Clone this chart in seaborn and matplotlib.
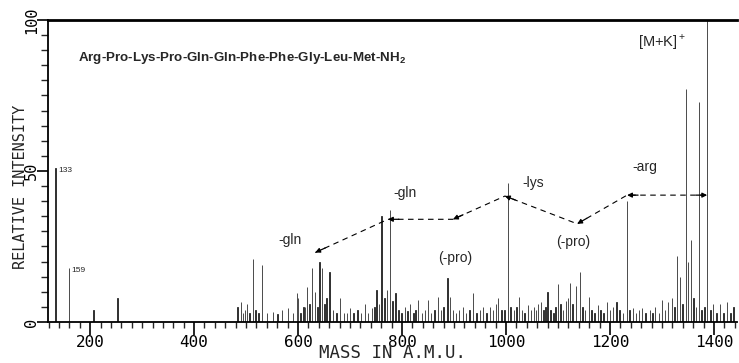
import matplotlib
matplotlib.use("Agg")
import matplotlib.pyplot as plt
from matplotlib.ticker import MultipleLocator, FixedLocator
import pandas as pd
import seaborn as sns

# Peak list of the spectrum (m/z, relative intensity %)
mass = [133, 159, 206, 253,
        483, 490, 494, 498, 502, 507, 513, 518, 524, 531, 540, 552, 560, 569, 581, 590,
        598, 600, 605, 610, 613, 617, 622, 627, 633, 637, 641, 646, 651, 655, 660, 667,
        674, 681, 688, 694, 700, 707, 714, 721, 729, 735, 742, 747, 751, 756, 761, 766,
        771, 777, 782, 787, 793, 799, 806, 811, 815, 822, 826, 831, 838, 844, 850, 856,
        862, 869, 875, 880, 887, 892, 898, 904, 910, 917, 923, 930, 937, 943, 950, 956,
        963, 969, 975, 981, 985, 991, 997, 1004, 1009, 1015, 1020, 1025, 1031, 1036, 1042,
        1048, 1054, 1058, 1062, 1067, 1072, 1076, 1080, 1086, 1091, 1095, 1100, 1105, 1110,
        1115, 1119, 1123, 1128, 1135, 1142, 1147, 1152, 1160, 1165, 1170, 1177, 1182, 1188,
        1194, 1200, 1206, 1213, 1218, 1225, 1233, 1238, 1244, 1250, 1256, 1262, 1268, 1277,
        1282, 1287, 1294, 1300, 1306, 1312, 1319, 1324, 1329, 1335, 1340, 1346, 1350, 1356,
        1361, 1366, 1371, 1376, 1382, 1387, 1393, 1398, 1405, 1412, 1418, 1425, 1432, 1438]
intensity = [51, 18, 4, 8,
             5, 6.7, 3, 4, 6, 3, 21, 4, 3, 19, 3, 3.2, 2.5, 4, 4.7, 3,
             9.7, 7.8, 3, 5, 5, 11.7, 6, 17.8, 10, 5, 20, 18, 6, 8, 16.7, 4,
             3, 7.8, 3, 3, 4.5, 3, 4, 3, 6, 3, 4.5, 5, 10.6, 6, 35, 8,
             10.6, 37, 7, 9.5, 4, 3, 5, 3.5, 6, 3, 4, 7.3, 3, 4, 7.3, 3,
             4, 8.4, 4, 5, 14.5, 8.4, 4, 3, 4, 5, 3, 4, 9.5, 3, 4, 5,
             3, 5, 4, 6, 7.8, 4, 4, 46, 5, 4, 5, 8.4, 4, 3, 5.6,
             4, 5, 4, 6, 6.7, 4, 5, 9.8, 4, 3, 5, 12.6, 6, 4,
             7, 8, 13, 6, 12, 16.7, 5, 4, 8.4, 4, 3, 5.6, 4, 3,
             6.7, 4, 5, 6.7, 4, 3, 40, 4, 4.5, 3, 4, 4.5, 3, 4,
             3, 5, 3, 7.3, 4, 6.7, 7.8, 5, 22, 15, 6, 77, 20, 27,
             8, 5, 73, 4, 5, 100, 4, 6, 3, 6, 3, 6.7, 3, 5]

# Fragmentation ladder (losses of residues)
frag_mass = [633, 773, 898, 998, 1137, 1233, 1387]
frag_level = [23, 34, 34, 41.7, 32.5, 42, 42]
frag_labels = ["-gln", "-gln", "(-pro)", "-lys", "(-pro)", "-arg", ""]
frag_label_shift = [(-25, 13), (17, 26), (2, -39), (28, 13), (-4, -18), (18, 28), (0, 0)]

peptide = r"Arg-Pro-Lys-Pro-Gln-Gln-Phe-Phe-Gly-Leu-Met-NH$\mathbf{_2}$"
parent_label = r"[M+K]$^+$"
marked_peaks = [133, 159]

sns.set_style("ticks")
plt.rcParams["font.family"] = ["DejaVu Sans Mono"]
plt.rcParams["mathtext.fontset"] = "custom"
plt.rcParams["mathtext.rm"] = "Liberation Sans"
plt.rcParams["mathtext.bf"] = "Liberation Sans:bold"

df = pd.DataFrame({"mass": mass, "intensity": intensity})

fig = plt.figure(figsize=(7.39, 3.63), dpi=100)
ax = fig.add_axes([0.065, 0.113, 0.932, 0.832])

sns.histplot(data=df, x="mass", weights="intensity", discrete=True,
             color="#1a1a1a", edgecolor="#1a1a1a", linewidth=0.55, alpha=1,
             ax=ax)

ax.set_xlim(119, 1444)
ax.set_ylim(0, 100)

# axes frame
for side in ["left", "bottom"]:
    ax.spines[side].set_linewidth(1.3)
ax.spines["top"].set_linewidth(2.0)
ax.spines["right"].set_visible(False)
for s in ax.spines.values():
    s.set_color("black")

ax.xaxis.set_major_locator(MultipleLocator(200))
ax.xaxis.set_minor_locator(MultipleLocator(20))
ax.yaxis.set_major_locator(FixedLocator([0, 50, 100]))
ax.yaxis.set_minor_locator(MultipleLocator(5))
ax.tick_params(axis="x", which="major", length=9, width=1.2, direction="out",
               labelsize=11.5, pad=0.5, colors="black")
ax.tick_params(axis="x", which="minor", length=4, width=1.0, direction="out")
ax.tick_params(axis="y", which="major", length=8, width=1.2, direction="out",
               labelsize=11, pad=-1.5, labelrotation=90, colors="black")
ax.tick_params(axis="y", which="minor", length=5, width=1.0, direction="out")
for lab in ax.get_yticklabels():
    lab.set_verticalalignment("center")

ax.set_xlabel("MASS IN A.M.U.", fontsize=12.5, va="bottom")
ax.xaxis.set_label_coords(0.5, -0.1325)
ax.set_ylabel("RELATIVE INTENSITY", fontsize=11, va="center")
ax.yaxis.set_label_coords(-0.040, 0.447)

# labels on the low-mass peaks
for m in marked_peaks:
    h = intensity[mass.index(m)]
    ax.annotate(str(m), xy=(m, h), xytext=(3, -3), textcoords="offset pixels",
                fontsize=6, family="Liberation Sans", ha="left", va="center")

# peptide sequence and parent ion label
ax.text(0.044, 0.875, peptide, transform=ax.transAxes, fontsize=9.6,
        family="Liberation Sans", fontweight="bold", ha="left", va="center")
top_m = mass[intensity.index(max(intensity))]
ax.annotate(parent_label, xy=(top_m, max(intensity)), xytext=(-45, -22),
            textcoords="offset pixels", fontsize=10.5, family="Liberation Sans",
            ha="center", va="center")

# dashed fragmentation ladder with arrowheads at each step
ax.plot(frag_mass, frag_level, color="black", lw=0.8, ls=(0, (5, 4)))
fig.canvas.draw()
pts = ax.transData.transform(list(zip(frag_mass, frag_level)))
for i in range(len(frag_mass) - 1):
    (x0, y0), (x1, y1) = pts[i], pts[i + 1]
    dx, dy = x1 - x0, y1 - y0
    d = (dx ** 2 + dy ** 2) ** 0.5
    ux, uy = dx / d, dy / d
    ax.annotate("", xy=(frag_mass[i], frag_level[i]), xytext=(ux * 11, uy * 11),
                textcoords="offset pixels",
                arrowprops=dict(arrowstyle="-|>", color="black", lw=0.9,
                                mutation_scale=7, shrinkA=0, shrinkB=0))
# arrowhead at the parent ion end
ax.annotate("", xy=(frag_mass[-1], frag_level[-1]),
            xytext=(-11, 0), textcoords="offset pixels",
            arrowprops=dict(arrowstyle="-|>", color="black", lw=0.9,
                            mutation_scale=7, shrinkA=0, shrinkB=0))

for m, lv, lab, (ox, oy) in zip(frag_mass, frag_level, frag_labels, frag_label_shift):
    if lab:
        ax.annotate(lab, xy=(m, lv), xytext=(ox, oy), textcoords="offset pixels",
                    fontsize=10, family="Liberation Sans", ha="center", va="center")

fig.savefig("out.png", dpi=100)
